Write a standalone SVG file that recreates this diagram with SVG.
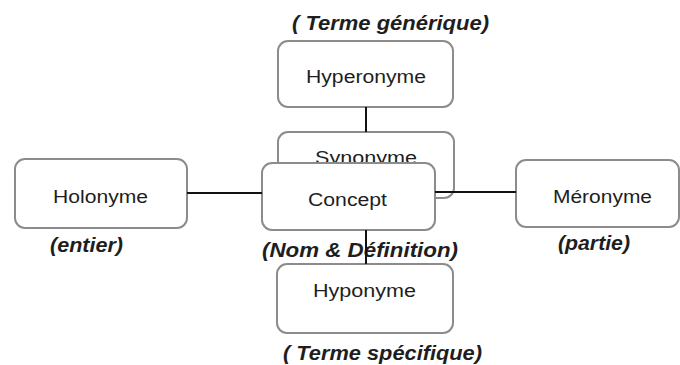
<svg xmlns="http://www.w3.org/2000/svg" width="680" height="365" viewBox="0 0 680 365">
  <style>
    .box { fill: #ffffff; stroke: #8c8c8c; stroke-width: 2; }
    .lbl { font-family: "Liberation Sans", Arial, sans-serif; font-size: 18px; fill: #1e1e1e; }
    .note { font-family: "Liberation Sans", Arial, sans-serif; font-size: 19.5px; font-weight: bold; font-style: italic; fill: #1e1e1e; }
    .link { stroke: #111111; stroke-width: 2; fill: none; }
  </style>
  <rect x="0" y="0" width="680" height="365" fill="#ffffff"/>

  <g id="hyperonyme">
    <text class="note" x="292" y="30" textLength="197" lengthAdjust="spacingAndGlyphs">( Terme générique)</text>
    <rect class="box" x="278" y="41" width="175" height="66" rx="10"/>
    <text class="lbl" x="306" y="83" textLength="120" lengthAdjust="spacingAndGlyphs">Hyperonyme</text>
  </g>

  <g id="synonyme">
    <rect class="box" x="278" y="132" width="176" height="66" rx="10"/>
    <text class="lbl" x="315" y="164" textLength="102" lengthAdjust="spacingAndGlyphs">Synonyme</text>
  </g>

  <g id="concept">
    <rect class="box" x="262" y="163" width="173" height="67" rx="10"/>
    <text class="lbl" x="308" y="206" textLength="79" lengthAdjust="spacingAndGlyphs">Concept</text>
    <text class="note" x="262" y="257" textLength="196" lengthAdjust="spacingAndGlyphs">(Nom &amp;  Définition)</text>
  </g>

  <g id="holonyme">
    <rect class="box" x="15" y="159" width="172" height="69" rx="10"/>
    <text class="lbl" x="53" y="203" textLength="95" lengthAdjust="spacingAndGlyphs">Holonyme</text>
    <text class="note" x="50" y="252" textLength="73" lengthAdjust="spacingAndGlyphs">(entier)</text>
  </g>

  <g id="meronyme">
    <rect class="box" x="516" y="160" width="163" height="67" rx="10"/>
    <text class="lbl" x="553" y="203" textLength="99" lengthAdjust="spacingAndGlyphs">Méronyme</text>
    <text class="note" x="558" y="250" textLength="72" lengthAdjust="spacingAndGlyphs">(partie)</text>
  </g>

  <g id="hyponyme">
    <rect class="box" x="277" y="264" width="176" height="69" rx="10"/>
    <text class="lbl" x="313" y="297" textLength="103" lengthAdjust="spacingAndGlyphs">Hyponyme</text>
    <text class="note" x="283" y="360" textLength="199" lengthAdjust="spacingAndGlyphs">( Terme spécifique)</text>
  </g>

  <g id="connectors">
    <line class="link" x1="366" y1="107" x2="366" y2="132"/>
    <line class="link" x1="366" y1="230" x2="366" y2="264"/>
    <line class="link" x1="187" y1="193" x2="262" y2="193"/>
    <line class="link" x1="435" y1="192" x2="516" y2="192"/>
  </g>
</svg>
